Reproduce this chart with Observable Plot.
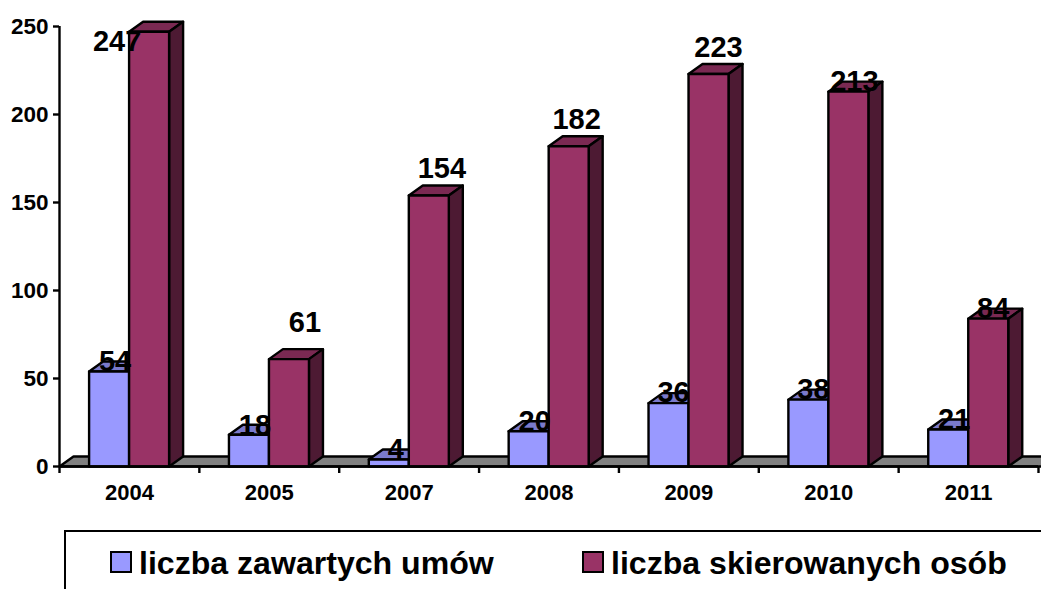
<!DOCTYPE html>
<html lang="pl">
<head>
<meta charset="utf-8">
<script src="https://cdn.jsdelivr.net/npm/d3@7"></script>
<script src="https://cdn.jsdelivr.net/npm/@observablehq/plot@0.6"></script>
<style>
  html, body { margin: 0; padding: 0; background: #fff; overflow: hidden; width: 1041px; height: 589px; }
  body { font-family: "Liberation Sans", Arial, sans-serif; font-weight: 700; color: #000; }
  #chart svg { display: block; }
  #legend { position: absolute; left: 64px; top: 530px; width: 1000px; height: 70px; border-top: 2px solid #000; border-left: 2px solid #000; box-sizing: border-box; }
  .item { position: absolute; top: 14px; font-size: 32.1px; line-height: 34px; white-space: nowrap; }
  .sw { position: absolute; top: 19px; width: 18px; height: 18px; border: 2px solid #000; }
</style>
</head>
<body>
<div id="chart"></div>
<div id="legend">
  <span class="sw" style="left:44px;background:#9999ff"></span>
  <span class="item" style="left:73px">liczba zawartych umów</span>
  <span class="sw" style="left:516px;background:#993366"></span>
  <span class="item" style="left:545px">liczba skierowanych osób</span>
</div>
<script>
const years = ["2004", "2005", "2007", "2008", "2009", "2010", "2011"];
const contracts = [54, 18, 4, 20, 36, 38, 21];
const referrals = [247, 61, 154, 182, 223, 213, 84];
const yTicks = [0, 50, 100, 150, 200, 250];
const groupTicks = [0, 1, 2, 3, 4, 5, 6, 7];

// Label offsets in pixels from the middle of each bar's top edge
const contractShiftX = [6, 6, 7, 6, 5, 5, 6];
const contractShiftY = [-10, -9, -10, -10, -10, -10, -10];
const referralShiftX = [-32, 16, 13, 8, 10, 6, 5];
const referralShiftY = [10, -36, -27, -26, -26, -10, -10];

const W = 1041, H = 525, L = 59, R = 3, T = 26, B = 59;
const pxX = (7) / (W - L - R), pxY = 250 / (H - T - B);
const depthX = 14 * pxX, depthY = 10 * pxY;
const barW = 40 * pxX, gap = 29.6 * pxX;

function faces(values, slot) {
  const front = [], top = [], side = [];
  values.forEach((v, i) => {
    const a = i + gap + slot * barW, b = a + barW;
    const id = `${slot}-${i}`;
    const poly = (arr, pts) => pts.forEach(([x, y]) => arr.push({x, y, id}));
    poly(front, [[a, 0], [b, 0], [b, v], [a, v]]);
    poly(top, [[a, v], [b, v], [b + depthX, v + depthY], [a + depthX, v + depthY]]);
    poly(side, [[b, 0], [b + depthX, depthY], [b + depthX, v + depthY], [b, v]]);
  });
  return {front, top, side};
}
const blue = faces(contracts, 0), red = faces(referrals, 1);
const floor = [[0, 0], [7 + depthX, 0], [7 + 2 * depthX, depthY], [depthX, depthY]].map(([x, y]) => ({x, y, id: "f"}));

const face = (data, fill) => Plot.line(data, {
  x: "x", y: "y", z: "id", fill, stroke: "#000", strokeWidth: 2.4,
  curve: "linear-closed", strokeLinejoin: "round", marker: "none"
});

const labels = [
  ...contracts.map((v, i) => ({t: v, x: i + gap + barW / 2 + contractShiftX[i] * pxX, y: v + contractShiftY[i] * -pxY})),
  ...referrals.map((v, i) => ({t: v, x: i + gap + 1.5 * barW + referralShiftX[i] * pxX, y: v + referralShiftY[i] * -pxY}))
];

const plot = Plot.plot({
  width: W, height: H,
  marginLeft: L, marginRight: R, marginTop: T, marginBottom: B,
  style: {fontFamily: '"Liberation Sans", Arial, sans-serif', fontWeight: 700, color: "#000", background: "#fff"},
  x: {domain: [0, 7], axis: null},
  y: {domain: [0, 250], axis: null},
  marks: [
    face(floor, "#808080"),
    face(blue.side, "#4d4d80"),
    face(blue.top, "#7a7acc"),
    face(blue.front, "#9999ff"),
    face(red.top, "#7a2952"),
    face(red.side, "#4d1a33"),
    face(red.front, "#993366"),
    Plot.ruleX([0], {x: 0, y1: 0, y2: 250, stroke: "#000", strokeWidth: 2.4}),
    Plot.ruleY([0], {y: 0, x1: 0, x2: 7, stroke: "#000", strokeWidth: 2.4}),
    Plot.axisY({ticks: yTicks, tickSize: 6, tickPadding: 5, fontSize: 22.5, fontWeight: 700, label: null, strokeWidth: 2.4, stroke: "#000", fill: "#000"}),
    Plot.axisX({ticks: groupTicks, tickSize: 7, tickFormat: () => "", label: null, strokeWidth: 2.4, stroke: "#000"}),
    Plot.axisX({ticks: years.map((_, i) => i + 0.5), tickSize: 0, tickPadding: 18, fontSize: 22, fontWeight: 700, label: null,
      tickFormat: d => years[Math.floor(d)], fill: "#000"}),
    Plot.text(labels, {x: "x", y: "y", text: "t", fontSize: 29, fontWeight: 700, fill: "#000", textAnchor: "middle", lineAnchor: "middle"})
  ]
});
document.getElementById("chart").append(plot);
</script>
</body>
</html>
